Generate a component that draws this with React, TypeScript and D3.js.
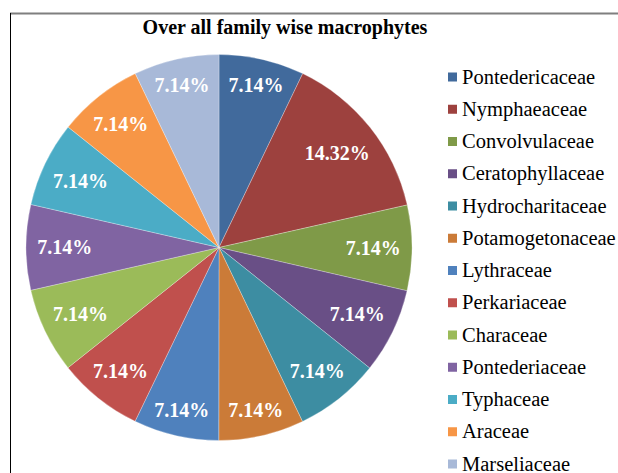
import React from "react";
import * as d3 from "d3";

const families = [
  "Pontedericaceae",
  "Nymphaeaceae",
  "Convolvulaceae",
  "Ceratophyllaceae",
  "Hydrocharitaceae",
  "Potamogetonaceae",
  "Lythraceae",
  "Perkariaceae",
  "Characeae",
  "Pontederiaceae",
  "Typhaceae",
  "Araceae",
  "Marseliaceae",
];
const shares = [7.14, 14.32, 7.14, 7.14, 7.14, 7.14, 7.14, 7.14, 7.14, 7.14, 7.14, 7.14, 7.14];
const sliceColors = [
  "#416A9C",
  "#9D413E",
  "#7F9A48",
  "#694F86",
  "#3D8DA2",
  "#CB7B38",
  "#4F81BD",
  "#C0504D",
  "#9BBB59",
  "#8064A2",
  "#4BACC6",
  "#F79646",
  "#A8B9D8",
];
const titleText = "Over all family wise macrophytes";

const W = 618;
const H = 473;
const cx = 219;
const cy = 247.5;
const R = 193;
const Rin = 182;
const FONT = '"Liberation Serif", "DejaVu Serif", serif';

let ctx: CanvasRenderingContext2D | null = null;
function measure(text: string, font: string): number {
  if (!ctx) ctx = document.createElement("canvas").getContext("2d");
  if (!ctx) return text.length * 10;
  ctx.font = font;
  return ctx.measureText(text).width;
}

export default function App() {
  const data = families.map((f, i) => ({ name: f, value: shares[i], color: sliceColors[i] }));
  const pie = d3
    .pie<{ name: string; value: number; color: string }>()
    .sort(null)
    .value((d) => d.value);
  const arcs = pie(data);
  const arcGen = d3
    .arc<d3.PieArcDatum<{ name: string; value: number; color: string }>>()
    .innerRadius(0)
    .outerRadius(R);

  const legendY = d3
    .scalePoint<string>()
    .domain(families)
    .range([77, 464]);

  return (
    <svg
      width={W}
      height={H}
      style={{ position: "absolute", left: 0, top: 0, background: "#fff", fontFamily: FONT }}
    >
      <line x1={10} x2={W} y1={13.5} y2={13.5} stroke="#7f7f7f" strokeWidth={2} />
      <line x1={10.5} x2={10.5} y1={13} y2={H} stroke="#000" strokeWidth={1} />
      <text
        x={285}
        y={33.5}
        textAnchor="middle"
        style={{ fontFamily: FONT, fontWeight: "bold", fontSize: "20px" }}
        fill="#000"
      >
        {titleText}
      </text>
      <g transform={`translate(${cx},${cy})`}>
        {arcs.map((a, i) => (
          <path key={i} d={arcGen(a) || ""} fill={a.data.color} stroke="#ffffff" strokeWidth={0.4} strokeOpacity={0.7} />
        ))}
        {arcs.map((a, i) => {
          const label = a.data.value.toFixed(2) + "%";
          const mid = (a.startAngle + a.endAngle) / 2;
          const ux = Math.sin(mid);
          const uy = -Math.cos(mid);
          const w = measure(label, `bold 20px ${FONT}`) / 2;
          const h = 8;
          const b = Math.abs(ux) * w + Math.abs(uy) * h;
          const c = w * w + h * h - Rin * Rin;
          const dist = -b + Math.sqrt(b * b - c);
          return (
            <text
              key={"l" + i}
              x={dist * ux}
              y={dist * uy}
              dy="0.35em"
              textAnchor="middle"
              style={{ fontFamily: FONT, fontWeight: "bold", fontSize: "20px" }}
              fill="#fff"
            >
              {label}
            </text>
          );
        })}
      </g>
      <g>
        {families.map((f, i) => {
          const y = legendY(f) as number;
          return (
            <g key={f}>
              <rect x={448} y={y - 4.5} width={9} height={9} fill={sliceColors[i]} />
              <text
                x={462}
                y={y + 6.5}
                style={{ fontFamily: FONT, fontSize: "20.5px" }}
                fill="#000"
              >
                {f}
              </text>
            </g>
          );
        })}
      </g>
    </svg>
  );
}
